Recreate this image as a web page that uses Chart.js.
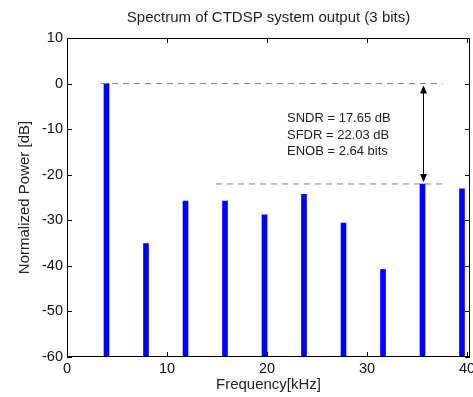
<!DOCTYPE html>
<html>
<head>
<meta charset="utf-8">
<script src="https://cdn.jsdelivr.net/npm/chart.js@4.4.1/dist/chart.umd.min.js"></script>
<style>
  html, body { margin: 0; padding: 0; background: #fff; }
  #wrap { width: 473px; height: 397px; }
</style>
</head>
<body>
<div id="wrap"><canvas id="spectrum"></canvas></div>
<script>
// harmonic bins (kHz) and their normalized power (dB)
const freqs = [3.95, 7.9, 11.85, 15.8, 19.75, 23.7, 27.65, 31.6, 35.55, 39.5];
const power = [0, -35.1, -25.8, -25.8, -28.8, -24.3, -30.6, -40.8, -22.03, -23.1];

const xTicks = [0, 10, 20, 30, 40];
const yTicks = [-60, -50, -40, -30, -20, -10, 0, 10];

// reference lines for SNDR/SFDR markers
const sndrLine = [{x: 3.4, y: 0}, {x: 37.6, y: 0}];
const sfdrLine = [{x: 14.9, y: -22.03}, {x: 37.6, y: -22.03}];
const arrowX = 35.55;
const notes = ['SNDR = 17.65 dB', 'SFDR = 22.03 dB', 'ENOB = 2.64 bits'];
const notesY = [-7.7, -11.4, -14.8];

const FONT = 'Liberation Sans, Arial, sans-serif';

const boxAndTicks = {
    id: 'boxAndTicks',
    afterDraw(chart) {
        const {ctx, chartArea: a, scales} = chart;
        const x = scales.x, y = scales.y;
        ctx.save();
        ctx.strokeStyle = '#000';
        ctx.lineWidth = 1;
        ctx.strokeRect(a.left + 0.5, a.top + 0.5, a.right - a.left - 1, a.bottom - a.top - 1);
        ctx.beginPath();
        const tl = 5;
        xTicks.forEach(v => {
            const px = Math.round(x.getPixelForValue(v)) + 0.5;
            ctx.moveTo(px, a.bottom); ctx.lineTo(px, a.bottom - tl);
            ctx.moveTo(px, a.top); ctx.lineTo(px, a.top + tl);
        });
        yTicks.forEach(v => {
            const py = Math.round(y.getPixelForValue(v)) + 0.5;
            ctx.moveTo(a.left, py); ctx.lineTo(a.left + tl, py);
            ctx.moveTo(a.right, py); ctx.lineTo(a.right - tl, py);
        });
        ctx.stroke();

        // double arrow between SNDR and SFDR lines
        const ax = Math.round(x.getPixelForValue(arrowX)) + 0.5;
        const y0 = y.getPixelForValue(0) + 2;
        const y1 = y.getPixelForValue(-22.03) - 2;
        ctx.beginPath();
        ctx.moveTo(ax, y0 + 6); ctx.lineTo(ax, y1 - 6);
        ctx.stroke();
        ctx.fillStyle = '#000';
        ctx.beginPath();
        ctx.moveTo(ax, y0); ctx.lineTo(ax - 3.5, y0 + 8); ctx.lineTo(ax + 3.5, y0 + 8); ctx.closePath();
        ctx.moveTo(ax, y1); ctx.lineTo(ax - 3.5, y1 - 8); ctx.lineTo(ax + 3.5, y1 - 8); ctx.closePath();
        ctx.fill();

        // annotation text
        ctx.fillStyle = '#222';
        ctx.font = '13px ' + FONT;
        ctx.textAlign = 'left';
        ctx.textBaseline = 'middle';
        notes.forEach((t, i) => ctx.fillText(t, x.getPixelForValue(22), y.getPixelForValue(notesY[i])));

        // titles
        ctx.font = '15px ' + FONT;
        ctx.textAlign = 'center';
        ctx.fillText('Spectrum of CTDSP system output (3 bits)', (a.left + a.right) / 2, 18);
        ctx.fillText('Frequency[kHz]', (a.left + a.right) / 2, 385);
        ctx.translate(25, (a.top + a.bottom) / 2);
        ctx.rotate(-Math.PI / 2);
        ctx.fillText('Normalized Power [dB]', 0, 0);
        ctx.restore();
    }
};

new Chart(document.getElementById('spectrum'), {
    type: 'bar',
    data: {
        datasets: [
            {
                type: 'line',
                data: sndrLine,
                borderColor: '#808080',
                borderWidth: 1,
                borderDash: [6, 5],
                pointRadius: 0
            },
            {
                type: 'line',
                data: sfdrLine,
                borderColor: '#808080',
                borderWidth: 1,
                borderDash: [6, 5],
                pointRadius: 0
            },
            {
                data: freqs.map((f, i) => ({x: f, y: [-60, power[i]]})),
                backgroundColor: '#0000ff',
                barThickness: 5,
                borderWidth: 0
            }
        ]
    },
    options: {
        responsive: true,
        maintainAspectRatio: false,
        animation: false,
        layout: {padding: {top: 38, right: 3, left: 0, bottom: 0}},
        plugins: {legend: {display: false}, tooltip: {enabled: false}},
        scales: {
            x: {
                type: 'linear',
                offset: false,
                min: 0,
                max: 40.3,
                grid: {display: false, drawTicks: false, offset: false},
                border: {display: false},
                ticks: {color: '#111', font: {family: FONT, size: 14.5}, padding: 3, maxRotation: 0},
                afterBuildTicks: s => { s.ticks = xTicks.map(v => ({value: v})); },
                afterFit: s => { s.height = 40; s.paddingLeft = 0; s.paddingRight = 0; }
            },
            y: {
                min: -60,
                max: 10,
                grid: {display: false, drawTicks: false},
                border: {display: false},
                ticks: {color: '#111', font: {family: FONT, size: 14.5}, padding: 4},
                afterBuildTicks: s => { s.ticks = yTicks.map(v => ({value: v})); },
                afterFit: s => { s.width = 67; s.paddingTop = 0; s.paddingBottom = 0; }
            }
        }
    },
    plugins: [boxAndTicks]
});
</script>
</body>
</html>
